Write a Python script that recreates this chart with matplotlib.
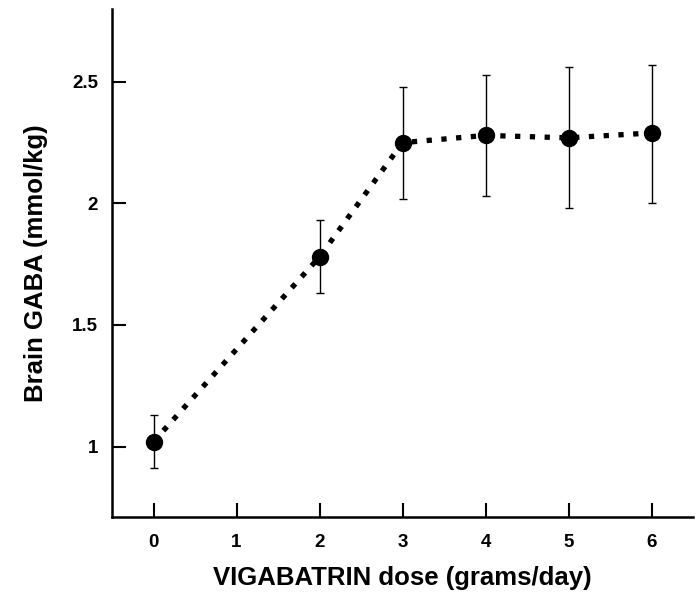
import matplotlib
matplotlib.use("Agg")
import matplotlib.pyplot as plt

dose = [0, 2, 3, 4, 5, 6]
gaba = [1.02, 1.78, 2.25, 2.28, 2.27, 2.29]
err_low = [0.91, 1.63, 2.02, 2.03, 1.98, 2.00]
err_high = [1.13, 1.93, 2.48, 2.53, 2.56, 2.57]
xticks = [0, 1, 2, 3, 4, 5, 6]
yticks = [1, 1.5, 2, 2.5]
ytick_labels = ["1", "1.5", "2", "2.5"]

plt.rcParams['font.family'] = ['Liberation Sans', 'DejaVu Sans']

fig = plt.figure(figsize=(6.99, 5.96), dpi=100)
ax = fig.add_axes([112/699, (596-517)/596, (693-112)/699, (517-9)/596])

lower = [g - l for g, l in zip(gaba, err_low)]
upper = [h - g for g, h in zip(gaba, err_high)]
ax.errorbar(dose, gaba, yerr=[lower, upper], fmt='none', ecolor='black',
            elinewidth=1.0, capsize=2.8, capthick=1.0, zorder=2)
ax.plot(dose, gaba, color='black', linestyle=(0, (1, 1.8)), linewidth=3.8,
        dash_capstyle='butt', zorder=3)
ax.plot(dose, gaba, 'o', color='black', markersize=11.5, zorder=4)

ax.set_xlim(-0.5, 6.5)
ax.set_ylim(0.71, 2.80)
ax.set_xticks(xticks)
ax.set_yticks(yticks)
ax.set_yticklabels(ytick_labels)
for s in ['top', 'right']:
    ax.spines[s].set_visible(False)
for s in ['left', 'bottom']:
    ax.spines[s].set_linewidth(1.8)
ax.tick_params(direction='in', length=10, width=1.5, labelsize=13.5)
ax.tick_params(axis='x', pad=12)
ax.tick_params(axis='y', pad=10)
for lab in ax.get_xticklabels() + ax.get_yticklabels():
    lab.set_fontweight('bold')

ax.set_xlabel('VIGABATRIN dose (grams/day)', fontsize=18.5, fontweight='bold', labelpad=11)
ax.set_ylabel('Brain GABA (mmol/kg)', fontsize=18.5, fontweight='bold', labelpad=17)

fig.savefig('out.png', dpi=100)
